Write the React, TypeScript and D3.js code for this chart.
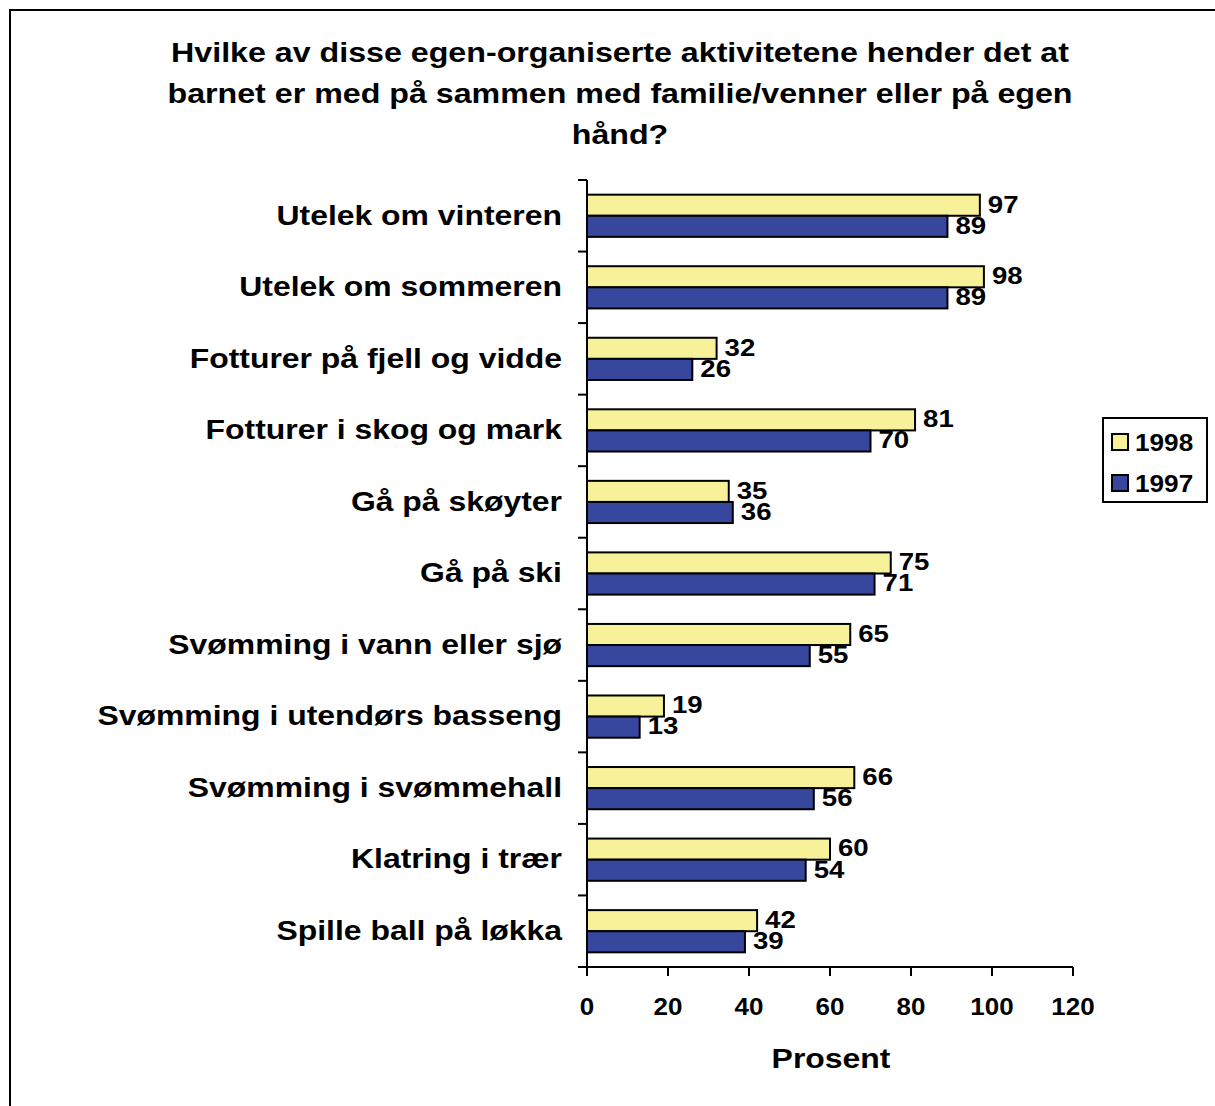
import React from "react";
import * as d3 from "d3";

const categories = [
  "Utelek om vinteren",
  "Utelek om sommeren",
  "Fotturer på fjell og vidde",
  "Fotturer i skog og mark",
  "Gå på skøyter",
  "Gå på ski",
  "Svømming i vann eller sjø",
  "Svømming i utendørs basseng",
  "Svømming i svømmehall",
  "Klatring i trær",
  "Spille ball på løkka",
];
const values1998 = [97, 98, 32, 81, 35, 75, 65, 19, 66, 60, 42];
const values1997 = [89, 89, 26, 70, 36, 71, 55, 13, 56, 54, 39];
const seriesNames = ["1998", "1997"];
const seriesColors = ["#F7F29A", "#36479D"];
const xTicks = [0, 20, 40, 60, 80, 100, 120];
const titleLines = [
  "Hvilke av disse egen-organiserte aktivitetene hender det at",
  "barnet er med på sammen med familie/venner eller på egen",
  "hånd?",
];
const xTitle = "Prosent";

const W = 1215;
const H = 1106;
const plot = { left: 587, right: 1073, top: 180, bottom: 967 };
const FONT = "'Liberation Sans', Arial, sans-serif";

type STProps = {
  x: number;
  y: number;
  size: number;
  sx?: number;
  anchor?: "start" | "middle" | "end";
  central?: boolean;
  children: React.ReactNode;
};

// Bold text with a slight horizontal widening
function SText({ x, y, size, sx = 1.14, anchor = "start", central = false, children }: STProps) {
  return (
    <text
      transform={`translate(${x},${y}) scale(${sx},1)`}
      textAnchor={anchor}
      dominantBaseline={central ? "central" : undefined}
      fontSize={size}
      fontWeight="bold"
      fill="#000"
    >
      {children}
    </text>
  );
}

export default function App() {
  const x = d3.scaleLinear().domain([0, 120]).range([plot.left, plot.right]);
  const y = d3
    .scaleBand<string>()
    .domain(categories)
    .range([plot.top, plot.bottom])
    .paddingInner(0)
    .paddingOuter(0);
  const band = y.bandwidth();
  const barH = band * 0.295;
  const series = [values1998, values1997];
  const boundaries = d3.range(categories.length + 1).map((i) => plot.top + i * band);

  return (
    <svg
      width={W}
      height={H}
      style={{ position: "absolute", left: 0, top: 0, background: "#fff" }}
      fontFamily={FONT}
    >
      <rect x={10} y={10} width={1220} height={1120} fill="#fff" stroke="#000" strokeWidth={2} />

      {titleLines.map((t, i) => (
        <SText key={i} x={620} y={62 + i * 41} size={28} sx={1.15} anchor="middle">
          {t}
        </SText>
      ))}

      {categories.map((c, ci) => {
        const y0 = (y(c) as number) + band / 2 - barH;
        return (
          <g key={c}>
            <SText x={562} y={(y(c) as number) + band / 2 - 1} size={28} anchor="end" central>
              {c}
            </SText>
            {series.map((vals, si) => {
              const by = y0 + si * barH;
              return (
                <g key={si}>
                  <rect
                    x={x(0)}
                    y={by}
                    width={x(vals[ci]) - x(0)}
                    height={barH}
                    fill={seriesColors[si]}
                    stroke="#000"
                    strokeWidth={2}
                  />
                  <SText x={x(vals[ci]) + 8} y={by + barH / 2 - 1} size={24} sx={1.15} central>
                    {vals[ci]}
                  </SText>
                </g>
              );
            })}
          </g>
        );
      })}

      {/* category axis */}
      <line x1={plot.left} x2={plot.left} y1={plot.top} y2={plot.bottom} stroke="#000" strokeWidth={2} />
      {boundaries.map((b, i) => (
        <line key={i} x1={plot.left - 9} x2={plot.left} y1={b} y2={b} stroke="#000" strokeWidth={2} />
      ))}

      {/* value axis */}
      <line x1={plot.left - 9} x2={plot.right} y1={plot.bottom} y2={plot.bottom} stroke="#000" strokeWidth={2} />
      {xTicks.map((t) => (
        <g key={t}>
          <line x1={x(t)} x2={x(t)} y1={plot.bottom} y2={plot.bottom + 9} stroke="#000" strokeWidth={2} />
          <SText x={x(t)} y={1015} size={23} sx={1.13} anchor="middle">
            {t}
          </SText>
        </g>
      ))}
      <SText x={831} y={1068} size={28} sx={1.14} anchor="middle">
        {xTitle}
      </SText>

      {/* legend */}
      <rect x={1103} y={418} width={104} height={84} fill="#fff" stroke="#000" strokeWidth={2} />
      {seriesNames.map((n, i) => (
        <g key={n}>
          <rect
            x={1112}
            y={434 + i * 41}
            width={16}
            height={16}
            fill={seriesColors[i]}
            stroke="#000"
            strokeWidth={2}
          />
          <SText x={1135} y={442 + i * 41} size={24} sx={1.09} central>
            {n}
          </SText>
        </g>
      ))}
    </svg>
  );
}
